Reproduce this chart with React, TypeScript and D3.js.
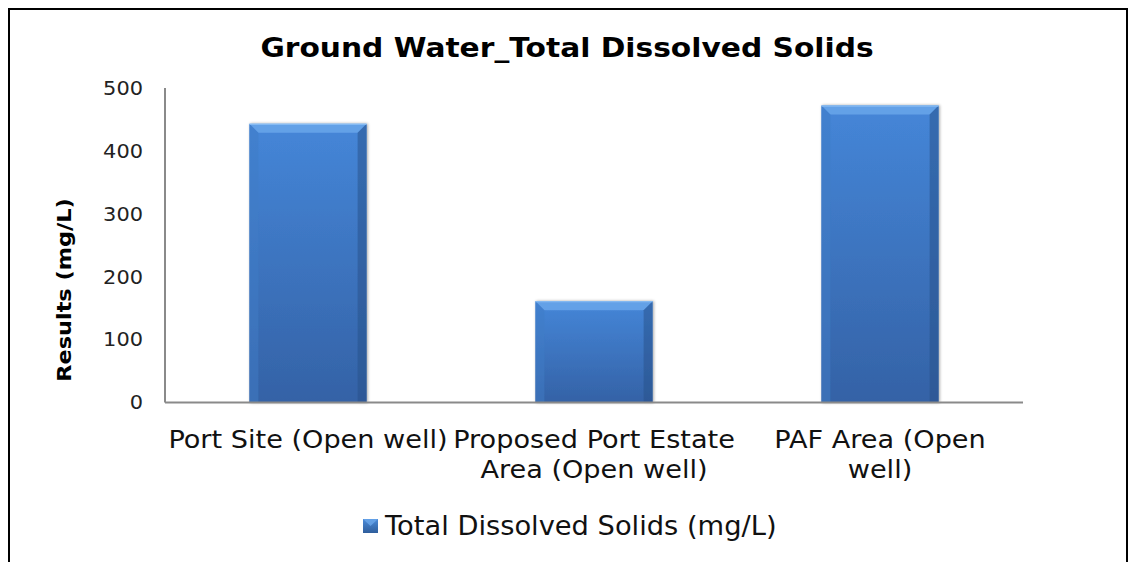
import React from "react";
import * as d3 from "d3";

const categories: string[][] = [
  ["Port Site (Open well)"],
  ["Proposed Port Estate", "Area (Open well)"],
  ["PAF Area (Open", "well)"],
];
const categoryKeys = ["Port Site (Open well)", "Proposed Port Estate Area (Open well)", "PAF Area (Open well)"];
const values = [443, 161, 472];
const yTicks = [0, 100, 200, 300, 400, 500];
const title = "Ground Water_Total Dissolved Solids";
const yLabel = "Results (mg/L)";
const seriesName = "Total Dissolved Solids (mg/L)";

const W = 1133;
const H = 562;
const FONT = "'DejaVu Sans', Verdana, sans-serif";

export default function App() {
  const x0 = 165, x1 = 1023, yTop = 88, yBottom = 402.5;
  const x = d3.scaleBand<string>().domain(categoryKeys).range([x0, x1]).paddingInner(0.59).paddingOuter(0.295);
  const y = d3.scaleLinear().domain([0, 500]).range([yBottom, yTop]);
  const bw = x.bandwidth();
  const bev = 9;

  return (
    <div style={{ position: "absolute", left: 0, top: 0 }}>
      <svg width={W} height={H} style={{ display: "block" }}>
        <defs>
          <linearGradient id="barG" x1="0" y1="0" x2="0" y2="1">
            <stop offset="0" stopColor="#4586d8" />
            <stop offset="1" stopColor="#3462a6" />
          </linearGradient>
          <linearGradient id="legG" x1="0" y1="0" x2="0" y2="1">
            <stop offset="0" stopColor="#4a8ad8" />
            <stop offset="1" stopColor="#2f5e9c" />
          </linearGradient>
          <filter id="sh" x="-10%" y="-10%" width="130%" height="120%">
            <feGaussianBlur in="SourceAlpha" stdDeviation="1.5" />
            <feOffset dx="1" dy="0" result="b" />
            <feComponentTransfer><feFuncA type="linear" slope="0.35" /></feComponentTransfer>
            <feMerge><feMergeNode /><feMergeNode in="SourceGraphic" /></feMerge>
          </filter>
        </defs>
        <rect x={0} y={0} width={W} height={H} fill="#fff" />
        {/* outer frame */}
        <path d={`M9,${H + 2} L9,9 L1127,9 L1127,${H + 2}`} fill="none" stroke="#000" strokeWidth={2} />

        <g transform="translate(567,57) scale(1.1,1)">
          <text x={0} y={0} textAnchor="middle" fontFamily={FONT} fontWeight="bold" fontSize={27} fill="#000">{title}</text>
        </g>

        {/* y tick labels */}
        {yTicks.map((t) => (
          <g key={t} transform={`translate(143,${y(t)}) scale(1.1,1)`}>
            <text x={0} y={0} dy="0.36em" textAnchor="end" fontFamily={FONT} fontSize={19} fill="#222">{t}</text>
          </g>
        ))}
        <g transform={`translate(71,290) rotate(-90) scale(1.12,1)`}>
          <text x={0} y={0} textAnchor="middle" fontFamily={FONT} fontWeight="bold" fontSize={20} fill="#000">{yLabel}</text>
        </g>

        {/* bars */}
        {values.map((v, i) => {
          const bx = x(categoryKeys[i])!;
          const by = y(v);
          const bh = yBottom - by;
          return (
            <g key={i} filter="url(#sh)">
              <rect x={bx} y={by} width={bw} height={bh} fill="url(#barG)" />
              <polygon points={`${bx},${by} ${bx + bw},${by} ${bx + bw - bev},${by + bev} ${bx + bev},${by + bev}`} fill="#6aa6ea" opacity={0.85} />
              <polygon points={`${bx},${by} ${bx + bev},${by + bev} ${bx + bev},${yBottom} ${bx},${yBottom}`} fill="#3f7bc6" opacity={0.5} />
              <polygon points={`${bx + bw},${by} ${bx + bw - bev},${by + bev} ${bx + bw - bev},${yBottom} ${bx + bw},${yBottom}`} fill="#254f88" opacity={0.5} />
              <line x1={bx} x2={bx + bw} y1={by + 0.5} y2={by + 0.5} stroke="#8cc0f5" strokeWidth={1} />
            </g>
          );
        })}

        {/* axes */}
        <line x1={x0} x2={x0} y1={yTop} y2={yBottom} stroke="#8a8a8a" strokeWidth={2} />
        <line x1={x0} x2={x1} y1={yBottom} y2={yBottom} stroke="#8a8a8a" strokeWidth={2} />

        {/* category labels */}
        {categories.map((lines, i) => {
          const cx = x(categoryKeys[i])! + bw / 2;
          return (
            <g key={i} transform={`translate(${cx},448) scale(1.085,1)`}>
              <text x={0} y={0} textAnchor="middle" fontFamily={FONT} fontSize={25} fill="#111">
                {lines.map((l, j) => (
                  <tspan key={j} x={0} dy={j === 0 ? 0 : 30}>{l}</tspan>
                ))}
              </text>
            </g>
          );
        })}

        {/* legend */}
        <rect x={363} y={519} width={15} height={14} fill="url(#legG)" />
        <polygon points="363,519 378,519 370.5,526" fill="#6aa6ea" opacity={0.8} />
        <g transform="translate(385,535) scale(1.05,1)">
          <text x={0} y={0} fontFamily={FONT} fontSize={26} fill="#111">{seriesName}</text>
        </g>
      </svg>
    </div>
  );
}
